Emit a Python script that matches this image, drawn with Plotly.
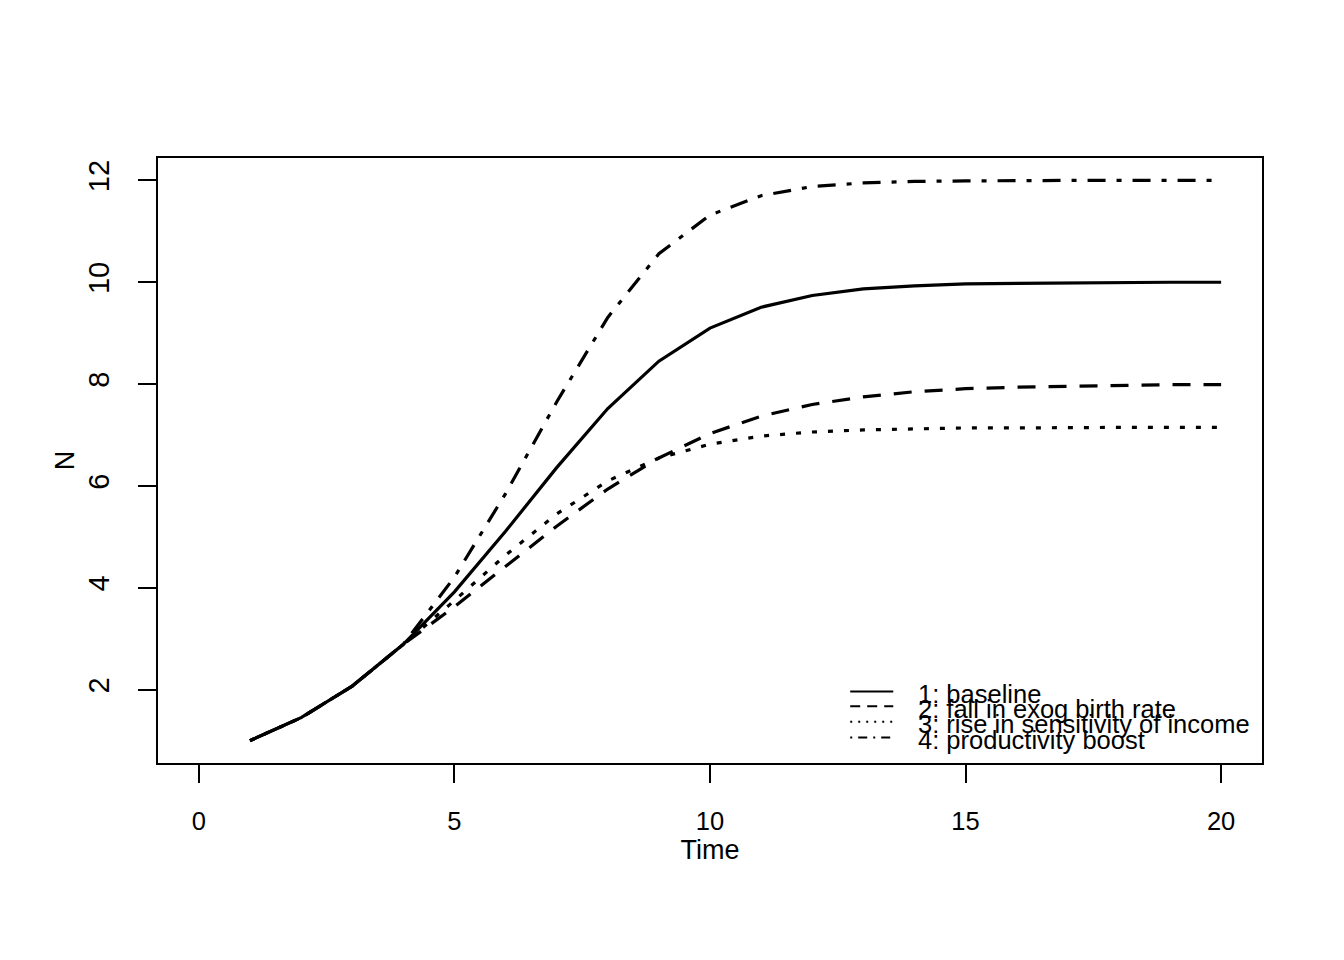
import plotly.graph_objects as go

# Population N over time under four scenarios
time = list(range(1, 21))

baseline = [1.00, 1.45, 2.07, 2.89, 3.92, 5.11, 6.36, 7.52, 8.45, 9.10,
            9.51, 9.74, 9.87, 9.93, 9.97, 9.98, 9.99, 10.00, 10.00, 10.00]
birth_fall = [1.00, 1.45, 2.07, 2.89, 3.63, 4.42, 5.21, 5.94, 6.55, 7.03,
              7.37, 7.60, 7.75, 7.85, 7.91, 7.94, 7.96, 7.98, 7.99, 7.99]
income_sens = [1.00, 1.45, 2.07, 2.89, 3.75, 4.64, 5.45, 6.10, 6.55, 6.82,
               6.98, 7.06, 7.10, 7.12, 7.14, 7.14, 7.15, 7.15, 7.15, 7.15]
prod_boost = [1.00, 1.45, 2.07, 2.89, 4.21, 5.85, 7.65, 9.31, 10.56, 11.32,
              11.70, 11.88, 11.95, 11.98, 11.99, 12.00, 12.00, 12.00, 12.00, 12.00]

labels = ["1: baseline", "2: fall in exog birth rate",
          "3: rise in sensitivity of income", "4: productivity boost"]
series = [baseline, birth_fall, income_sens, prod_boost]
dashes = ["solid", "18px,13px", "5px,11px", "5px,11px,18px,11px"]
legend_dashes = ["solid", "10px,7px", "2px,6px", "2px,6px,9px,6px"]

FONT = "Liberation Sans, Arial, sans-serif"

fig = go.Figure()
for lab, y, d in zip(labels, series, dashes):
    fig.add_trace(go.Scatter(x=time, y=y, mode="lines", name=lab,
                             line=dict(color="black", width=3.2, dash=d)))

# R-style overlapping legend, bottom right inside the box
leg_y = [0.118, 0.094, 0.068, 0.042]
for lab, d, ly in zip(labels, legend_dashes, leg_y):
    fig.add_shape(type="line", xref="paper", yref="paper",
                  x0=0.627, x1=0.666, y0=ly, y1=ly,
                  line=dict(color="black", width=2, dash=d))
    fig.add_annotation(text=lab, xref="paper", yref="paper",
                       x=0.687, y=ly - 0.004, xanchor="left", yanchor="middle",
                       showarrow=False, font=dict(size=25.5, color="black", family=FONT))

fig.update_layout(
    width=1344, height=960,
    margin=dict(l=150, r=90, t=150, b=205),
    plot_bgcolor="white", paper_bgcolor="white",
    showlegend=False,
    font=dict(family=FONT, size=25, color="black"),
    xaxis=dict(range=[-0.8, 20.8], tickvals=[0, 5, 10, 15, 20],
               showline=True, mirror=True, linecolor="black", linewidth=1.5,
               ticks="outside", ticklen=18, tickwidth=1.5, tickcolor="black",
               showgrid=False, zeroline=False, ticklabelstandoff=17,
               tickfont=dict(size=25.5),
               title=dict(text="Time", standoff=3, font=dict(size=27))),
    yaxis=dict(range=[0.56, 12.44], tickvals=[2, 4, 6, 8, 10, 12],
               showline=True, mirror=True, linecolor="black", linewidth=1.5,
               ticks="outside", ticklen=18, tickwidth=1.5, tickcolor="black",
               showgrid=False, zeroline=False, tickangle=-90, ticklabelstandoff=18,
               tickfont=dict(size=29),
               title=dict(text="N", standoff=0, font=dict(size=27))),
)

fig.write_html("out.html")
